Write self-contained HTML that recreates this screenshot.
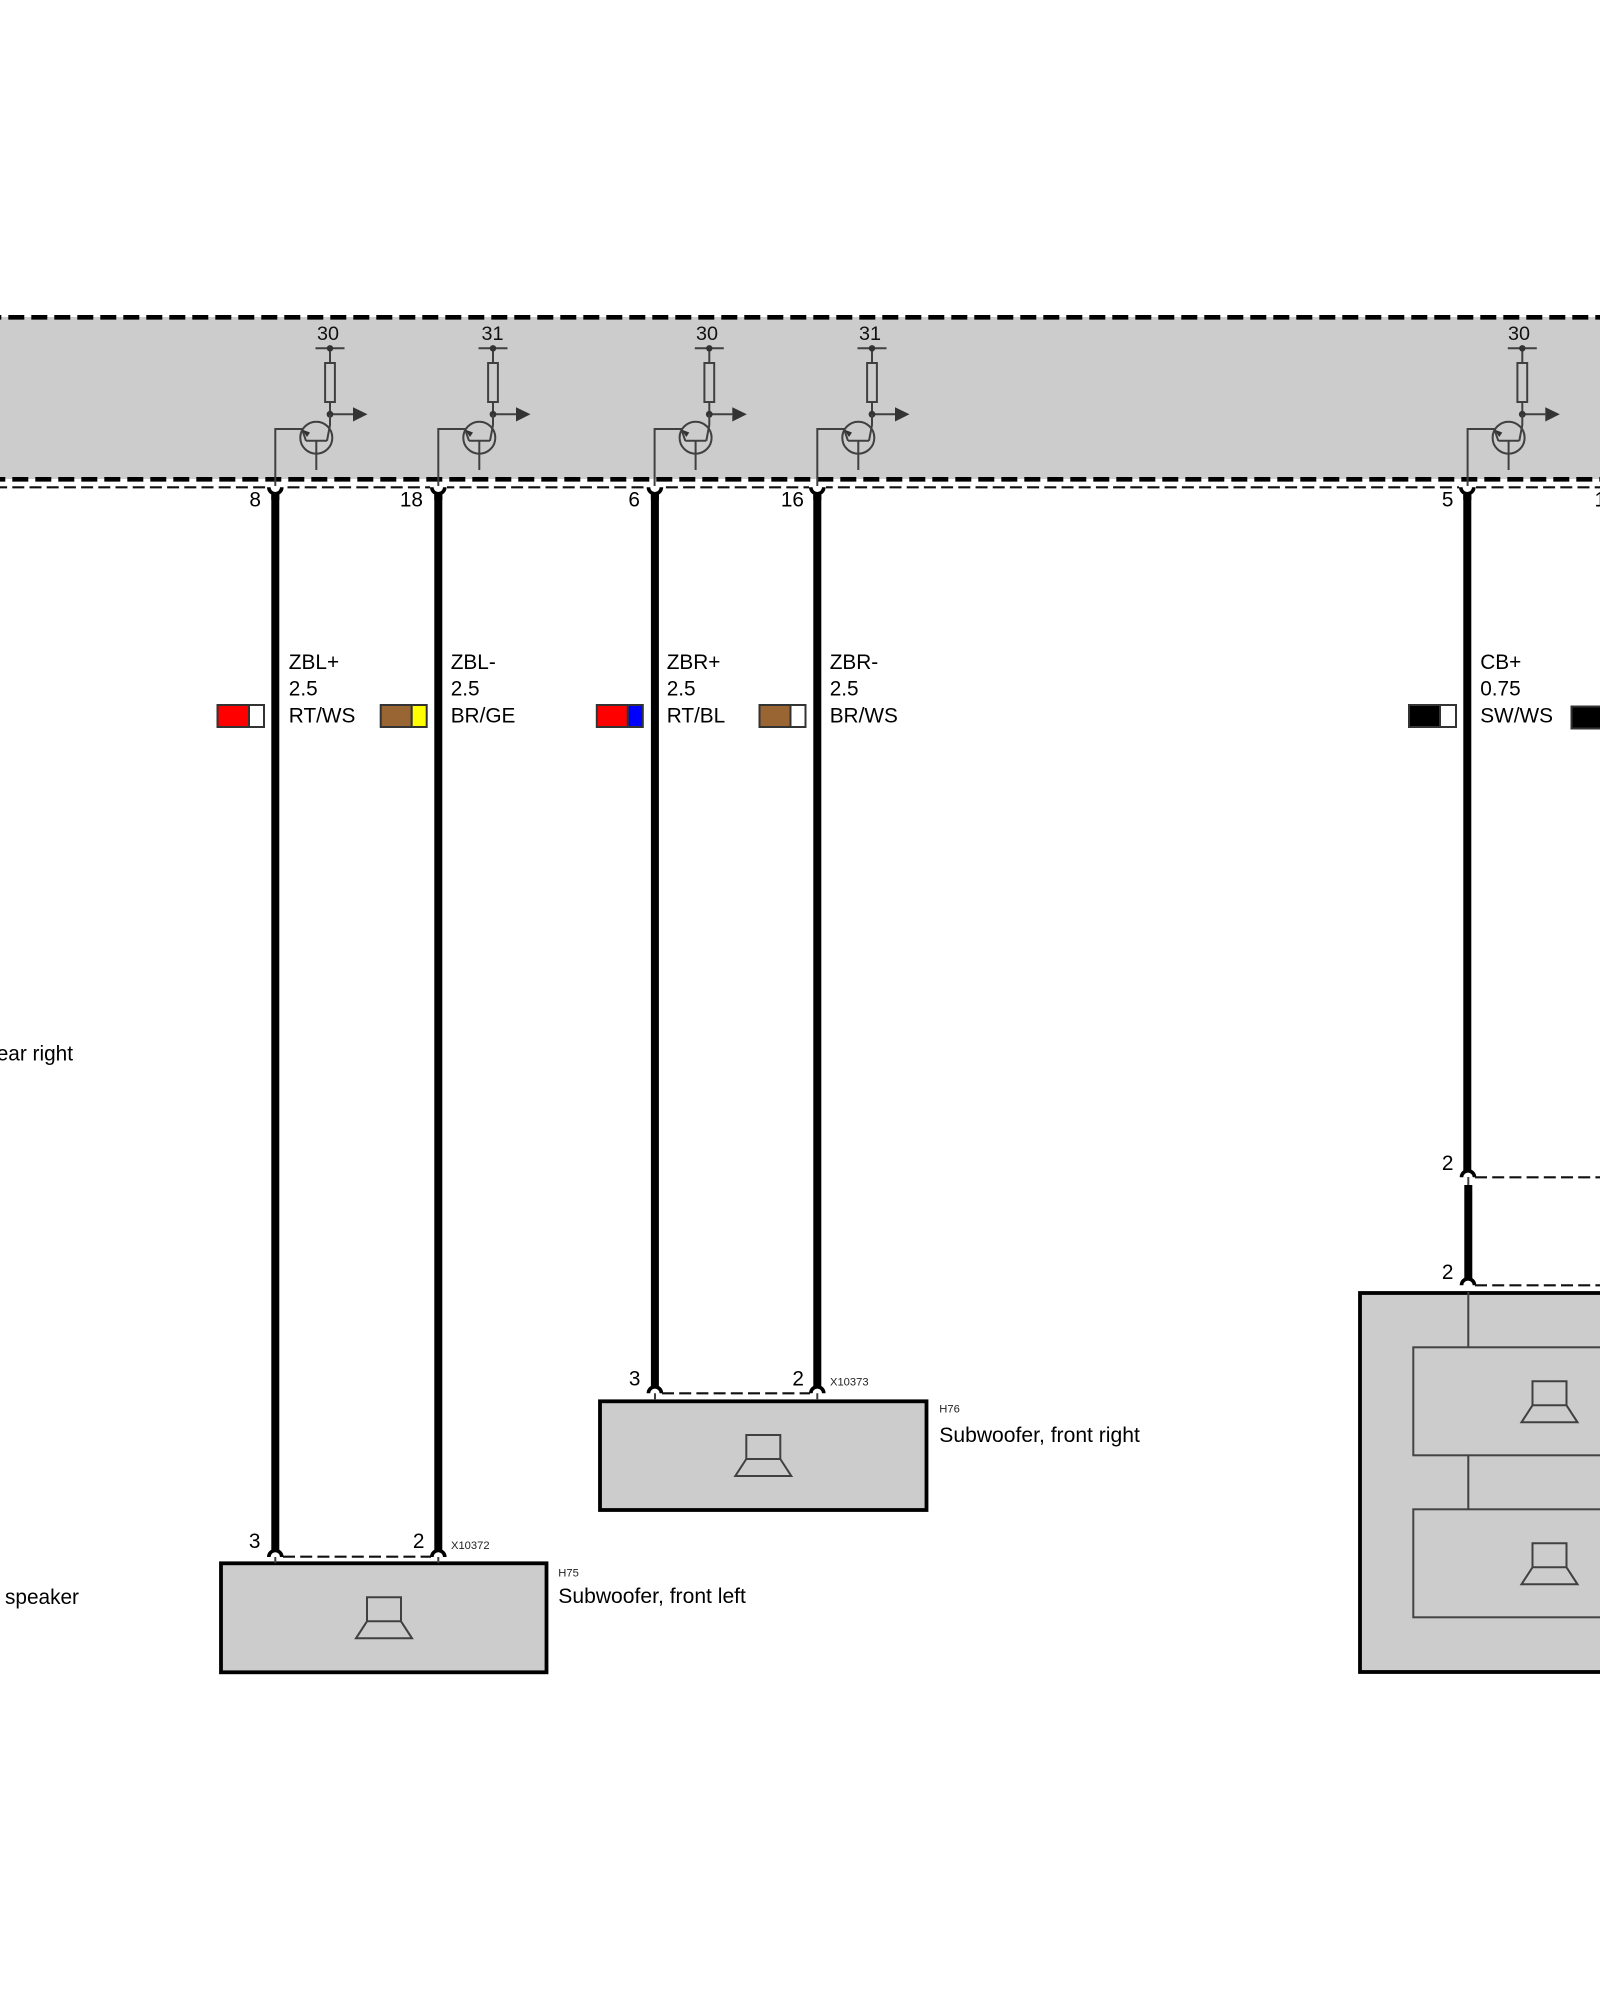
<!DOCTYPE html>
<html><head><meta charset="utf-8"><style>
html,body{margin:0;padding:0;background:#fff;width:1600px;height:2000px;overflow:hidden}
svg{display:block}
text{font-family:"Liberation Sans",sans-serif;font-size:20.8px;fill:#000}
.l{font-size:21.1px}
.s{font-size:11.2px;fill:#222}
.n{font-size:20.8px;text-anchor:end}
.t{font-size:19.8px;text-anchor:middle;fill:#111}
.g{fill:none;stroke:#404040;stroke-width:2}
.w{stroke:#000;stroke-width:8;fill:none}
.a{fill:none;stroke:#000;stroke-width:3.6}
.d{fill:none;stroke:#111;stroke-width:2.2;stroke-dasharray:12 5.2}
</style></head><body>
<svg width="1600" height="2000" viewBox="0 0 1600 2000" xmlns="http://www.w3.org/2000/svg">
<defs>
<g id="tr">
<path class="g" d="M-14.5 348.3H14.5M0 348.3V363M0 402V414.3M0 414.3H23"/>
<rect class="g" x="-4.9" y="363" width="9.8" height="39"/>
<circle cx="0" cy="348.3" r="3.2" fill="#333"/>
<circle cx="0" cy="414.3" r="3.4" fill="#333"/>
<path d="M23 407.3L37.5 414.3L23 421.5Z" fill="#333"/>
<circle class="g" cx="-13.7" cy="437.7" r="16"/>
<path class="g" d="M-24 440.8H-3M-13.7 440.8V470M-3 440.8L0 425V414.3M-24 440.8L-28 429H-54.7V486"/>
<path d="M-23 437L-28 429.5L-20 432.5Z" fill="#333"/>
</g>
<g id="topcap">
<path class="a" d="M-6.5 487.3A6.5 6.5 0 0 0 6.5 487.3"/>
<path d="M-4 493V500H4V493A5 5 0 0 1 -4 493Z" fill="#000"/>
</g>
<path id="botcap" class="a" d="M-6.5 0A6.5 6.5 0 0 1 6.5 0"/>
<g id="spk">
<path class="g" d="M0 0H34V24H0ZM0 24L-11 41H45L34 24"/>
</g>
</defs>

<!-- top band -->
<rect x="0" y="317" width="1600" height="162" fill="#ccc"/>
<rect x="0" y="479" width="1600" height="3" fill="#fff"/>
<line x1="-14.7" y1="317.3" x2="1600" y2="317.3" stroke="#000" stroke-width="4.6" stroke-dasharray="16 7"/>
<line x1="-10.7" y1="479.3" x2="1600" y2="479.3" stroke="#000" stroke-width="4.6" stroke-dasharray="16 7"/>
<line x1="-4.9" y1="487.3" x2="1600" y2="487.3" stroke="#111" stroke-width="2.2" stroke-dasharray="12 5.2"/>

<!-- white gaps at caps -->
<g fill="#fff">
<rect x="267" y="484" width="17" height="8"/><rect x="430" y="484" width="17" height="8"/>
<rect x="646.5" y="484" width="17" height="8"/><rect x="809" y="484" width="17" height="8"/>
<rect x="1459" y="484" width="17" height="8"/>
</g>

<!-- transistors -->
<use href="#tr" x="330" y="0"/>
<use href="#tr" x="493" y="0"/>
<use href="#tr" x="709.3" y="0"/>
<use href="#tr" x="872" y="0"/>
<use href="#tr" x="1522.3" y="0"/>

<text class="t" x="328" y="340">30</text>
<text class="t" x="492.5" y="340">31</text>
<text class="t" x="707" y="340">30</text>
<text class="t" x="870" y="340">31</text>
<text class="t" x="1519" y="340">30</text>

<!-- wires -->
<use href="#topcap" x="275.3"/><use href="#topcap" x="438.3"/><use href="#topcap" x="654.9"/><use href="#topcap" x="817.3"/><use href="#topcap" x="1467.3"/>
<path class="w" d="M275.3 495V1551M438.3 495V1551M654.9 495V1388M817.3 495V1388M1467.3 495V1172M1468.3 1185V1280"/>

<text class="n" x="261" y="506.7">8</text>
<text class="n" x="423" y="506.7">18</text>
<text class="n" x="640" y="506.7">6</text>
<text class="n" x="804" y="506.7">16</text>
<text class="n" x="1453.5" y="506.7">5</text>
<text x="1594.5" y="506.7">1</text>

<!-- wire labels -->
<text x="288.8" y="669">ZBL+</text><text x="288.8" y="695.7">2.5</text><text x="288.8" y="722.3">RT/WS</text>
<text x="450.7" y="669">ZBL-</text><text x="450.7" y="695.7">2.5</text><text x="450.7" y="722.3">BR/GE</text>
<text x="666.7" y="669">ZBR+</text><text x="666.7" y="695.7">2.5</text><text x="666.7" y="722.3">RT/BL</text>
<text x="829.7" y="669">ZBR-</text><text x="829.7" y="695.7">2.5</text><text x="829.7" y="722.3">BR/WS</text>
<text x="1480.2" y="669">CB+</text><text x="1480.2" y="695.7">0.75</text><text x="1480.2" y="722.3">SW/WS</text>

<!-- swatches -->
<g stroke="#333" stroke-width="2">
<rect x="217.5" y="705" width="31.5" height="22" fill="#f00"/><rect x="249" y="705" width="15" height="22" fill="#fff"/>
<rect x="380.7" y="705" width="31" height="22" fill="#963"/><rect x="411.7" y="705" width="15" height="22" fill="#ff0"/>
<rect x="596.8" y="705" width="31" height="22" fill="#f00"/><rect x="627.8" y="705" width="15" height="22" fill="#00f"/>
<rect x="759.5" y="705" width="31" height="22" fill="#963"/><rect x="790.5" y="705" width="15" height="22" fill="#fff"/>
<rect x="1409" y="705" width="31" height="22" fill="#000"/><rect x="1440" y="705" width="16" height="22" fill="#fff"/>
<rect x="1571.5" y="706.5" width="40" height="22" fill="#000"/>
</g>

<!-- left clipped labels -->
<text x="73" y="1060.7" text-anchor="end">ear right</text>
<text x="5" y="1604">speaker</text>

<!-- H75 -->
<rect x="221" y="1563.3" width="325.5" height="109" fill="#ccc" stroke="#000" stroke-width="3.8"/>
<use href="#spk" x="367" y="1597.3"/>
<path class="g" d="M275.3 1557V1563M438.3 1557V1563"/>
<use href="#botcap" x="275.3" y="1557"/><use href="#botcap" x="438.3" y="1557"/>
<path class="d" d="M283 1556.7H431"/>
<text class="n" x="260.5" y="1548">3</text><text class="n" x="424.5" y="1548">2</text>
<text class="s" x="451" y="1549">X10372</text>
<text class="s" x="558.3" y="1576.7">H75</text>
<text class="l" x="558.3" y="1603">Subwoofer, front left</text>

<!-- H76 -->
<rect x="600" y="1401.3" width="326.5" height="108.7" fill="#ccc" stroke="#000" stroke-width="3.8"/>
<use href="#spk" x="746.3" y="1435"/>
<path class="g" d="M655 1393.3V1400M817.3 1393.3V1400"/>
<use href="#botcap" x="654.9" y="1393.3"/><use href="#botcap" x="817.3" y="1393.3"/>
<path class="d" d="M662 1393.3H810"/>
<text class="n" x="640.5" y="1385.5">3</text><text class="n" x="804" y="1385.5">2</text>
<text class="s" x="830" y="1385.7">X10373</text>
<text class="s" x="939.3" y="1412.7">H76</text>
<text class="l" x="939.3" y="1442">Subwoofer, front right</text>

<!-- right group -->
<rect x="1360" y="1293" width="300" height="379" fill="#ccc" stroke="#000" stroke-width="3.8"/>
<rect x="1413.3" y="1347.3" width="260" height="108" fill="none" stroke="#444" stroke-width="2"/>
<rect x="1413.3" y="1509.3" width="260" height="108" fill="none" stroke="#444" stroke-width="2"/>
<path class="g" d="M1468.3 1292V1347.3M1468.3 1455.3V1509.3M1468.3 1177V1185"/>
<use href="#spk" x="1532.5" y="1381.3"/>
<use href="#spk" x="1532.5" y="1543.3"/>
<use href="#botcap" x="1468" y="1177.3"/><use href="#botcap" x="1468" y="1285.3"/>
<path class="d" d="M1475 1177.3H1600M1475 1285.3H1600"/>
<text class="n" x="1453.5" y="1170">2</text><text class="n" x="1453.5" y="1279">2</text>
</svg>
</body></html>
